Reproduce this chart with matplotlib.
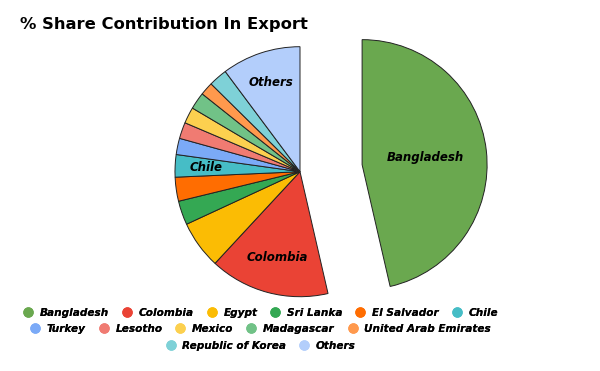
import numpy as np
import matplotlib
matplotlib.use('Agg')
import matplotlib.pyplot as plt
from matplotlib.lines import Line2D

# share of export (percent)
countries = ["Bangladesh", "Colombia", "Egypt", "Sri Lanka", "El Salvador", "Chile",
             "Turkey", "Lesotho", "Mexico", "Madagascar", "United Arab Emirates",
             "Republic of Korea", "Others"]
shares = [46.4, 15.5, 6.2, 3.1, 3.1, 2.9, 2.1, 2.1, 2.1, 2.2, 1.7, 2.4, 10.2]
colors = ["#6AA84F", "#EA4335", "#FBBC04", "#34A853", "#FF6D01", "#46BDC6",
          "#7BAAF7", "#F07B72", "#FCD04F", "#71C287", "#FF994D", "#7ED1D7", "#B3CEFB"]
# which slices get a name inside them
labelled = {"Bangladesh": 0.51, "Colombia": 0.71, "Chile": 0.75, "Others": 0.75}

W, H = 600, 371
R = 125
# matplotlib explode is in data units, here pixels
explode = [0.5 * R] + [0] * (len(countries) - 1)

fig = plt.figure(figsize=(6, 3.71), dpi=100)
ax = fig.add_axes([0, 0, 1, 1])

wedges, _ = ax.pie(shares, colors=colors, explode=explode, startangle=90,
                   counterclock=False, radius=R, center=(300, H - 171.7),
                   wedgeprops=dict(edgecolor='#222222', linewidth=0.7))
ax.set_xlim(0, W)
ax.set_ylim(0, H)
ax.set_aspect('equal')
ax.axis('off')

for w, name in zip(wedges, countries):
    if name in labelled:
        ang = np.deg2rad((w.theta1 + w.theta2) / 2)
        cx, cy = w.center
        r = labelled[name] * w.r
        ax.text(cx + r * np.cos(ang), cy + r * np.sin(ang), name, ha='center', va='center',
                fontsize=8.5, fontweight='bold', fontstyle='italic', color='black')

fig.text(20 / W, 1 - 25 / H, "% Share Contribution In Export", fontsize=11.75,
         fontweight='bold', ha='left', va='center')

# legend in three centered rows
rows = [countries[0:6], countries[6:11], countries[11:]]
row_y = [313, 329, 346]
for names, y in zip(rows, row_y):
    handles = [Line2D([], [], marker='o', linestyle='', markersize=7.5,
                      markerfacecolor=colors[countries.index(n)], markeredgewidth=0)
               for n in names]
    leg = fig.legend(handles, names, loc='center', bbox_to_anchor=(261 / W, 1 - y / H),
                     ncol=len(names), frameon=False, handlelength=0.8, handletextpad=0.7,
                     columnspacing=1.3, borderpad=0, borderaxespad=0,
                     prop=dict(size=7.6, weight='bold', style='italic'))
    fig.add_artist(leg)

fig.savefig("out.png", dpi=100)
